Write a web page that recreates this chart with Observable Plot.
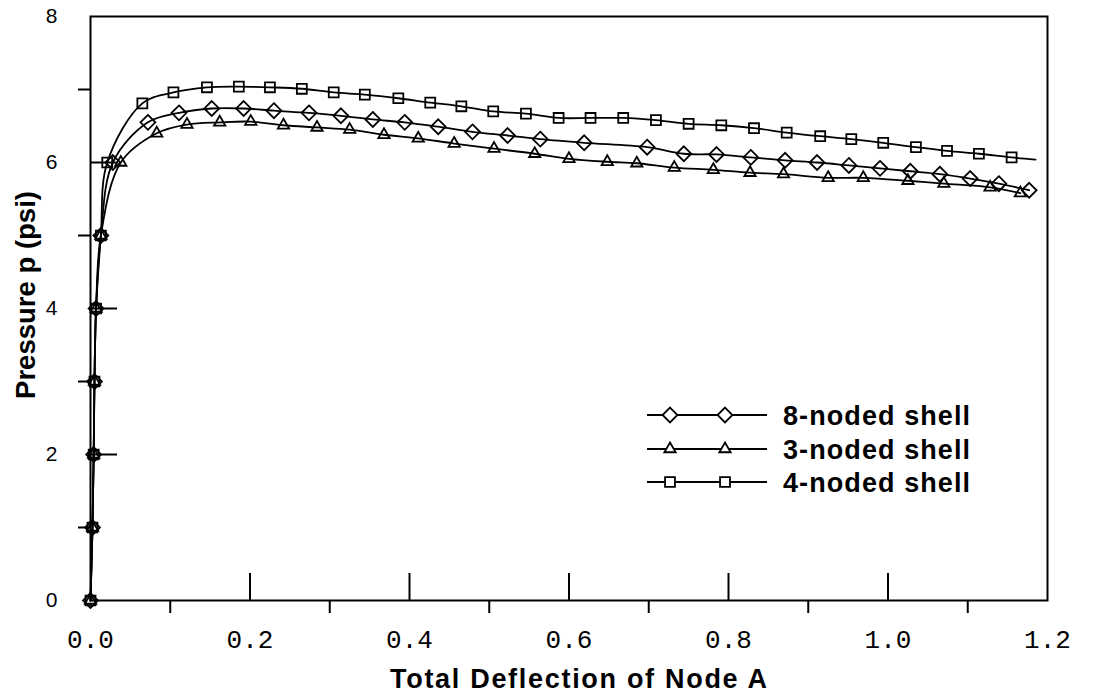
<!DOCTYPE html>
<html><head><meta charset="utf-8">
<script src="https://cdn.jsdelivr.net/npm/d3@7"></script>
<script src="https://cdn.jsdelivr.net/npm/@observablehq/plot@0.6"></script>
<style>
body{margin:0;background:#fff}
#chart{width:1096px;height:696px}
</style>
</head><body><div id="chart"></div>
<script>
// ---- data ----
const lowPressure = [0, 1, 2, 3, 4, 5];
const lowDeflection = [0, 0.0025, 0.004, 0.005, 0.007, 0.013];

const shell8X = [0.028,0.072,0.111,0.152,0.192,0.230,0.274,0.314,0.354,0.394,0.436,0.479,0.523,0.564,0.619,0.698,0.744,0.785,0.828,0.871,0.911,0.951,0.990,1.028,1.065,1.103,1.139,1.177];
const shell8Y = [6.00,6.55,6.68,6.74,6.74,6.71,6.68,6.64,6.59,6.55,6.49,6.42,6.37,6.32,6.27,6.21,6.12,6.11,6.07,6.03,6.00,5.96,5.92,5.88,5.84,5.78,5.71,5.62];

const shell3X = [0.038,0.083,0.121,0.162,0.201,0.242,0.284,0.325,0.368,0.411,0.456,0.506,0.557,0.600,0.648,0.685,0.732,0.781,0.827,0.869,0.925,0.969,1.025,1.070,1.128,1.166];
const shell3Y = [6.00,6.40,6.52,6.55,6.56,6.51,6.48,6.45,6.38,6.33,6.26,6.19,6.12,6.05,6.01,5.99,5.93,5.90,5.86,5.84,5.79,5.79,5.75,5.71,5.66,5.58];

// last point of the 4-noded curve carries no marker
const shell4X = [0.021,0.065,0.104,0.146,0.186,0.225,0.265,0.305,0.344,0.386,0.426,0.465,0.505,0.546,0.587,0.627,0.668,0.709,0.750,0.791,0.832,0.873,0.915,0.954,0.994,1.035,1.074,1.114,1.155,1.185];
const shell4Y = [6.00,6.81,6.96,7.03,7.04,7.03,7.01,6.96,6.93,6.88,6.82,6.77,6.70,6.67,6.61,6.61,6.61,6.58,6.53,6.51,6.47,6.41,6.36,6.32,6.27,6.21,6.16,6.12,6.07,6.04];
const shell4Marked = 29;

const seriesNames = ["8-noded shell", "3-noded shell", "4-noded shell"];
const xTickLabels = [0, 0.2, 0.4, 0.6, 0.8, 1.0, 1.2];
const xTicksInner = [0.2, 0.4, 0.6, 0.8, 1.0];
const xTicksOuter = [0.1, 0.3, 0.5, 0.7, 0.9, 1.1];
const yTickLabels = [0, 2, 4, 6, 8];
const yTicksInner = [2, 4, 6];
const yTicksOuter = [1, 3, 5, 7];
const xTitle = "Total Deflection of Node A";
const yTitle = "Pressure p (psi)";

// ---- build tables ----
function build(xs, ys, marked) {
  const rows = lowDeflection.map((x, i) => ({x, y: lowPressure[i], m: true}));
  xs.forEach((x, i) => rows.push({x, y: ys[i], m: marked == null || i < marked}));
  return rows;
}
const s8 = build(shell8X, shell8Y);
const s3 = build(shell3X, shell3Y);
const s4 = build(shell4X, shell4Y, shell4Marked);

const SW = 1.8;
const symbols = [
  {sym: "diamond2", d3sym: d3.symbolDiamond2, r: 6.7},
  {sym: "triangle2", d3sym: d3.symbolTriangle2, r: 5.4},
  {sym: "square", d3sym: d3.symbolSquare, r: 5.6}
];
const data = [s8, s3, s4];

const lineMarks = data.map(d => Plot.line(d, {x: "x", y: "y", curve: "catmull-rom", stroke: "black", strokeWidth: SW}));
const dotMarks = data.map((d, i) => Plot.dot(d.filter(r => r.m), {x: "x", y: "y", symbol: () => symbols[i].sym, r: symbols[i].r, stroke: "black", strokeWidth: SW, fill: "none"}));

const plot = Plot.plot({
  width: 1096, height: 696,
  marginLeft: 90, marginRight: 49, marginTop: 16, marginBottom: 96,
  x: {domain: [0, 1.2]},
  y: {domain: [0, 8]},
  symbol: {type: "identity"},
  style: {background: "white", color: "black"},
  marks: [
    Plot.tickX(xTicksInner, {x: d => d, insetTop: 557, stroke: "black", strokeWidth: 2}),
    Plot.tickY(yTicksInner, {y: d => d, insetRight: 930, stroke: "black", strokeWidth: 2}),
    Plot.axisX({ticks: xTicksOuter, tickSize: 13, tickFormat: () => "", label: null, strokeWidth: 2}),
    Plot.axisY({ticks: yTicksOuter, tickSize: 12, tickFormat: () => "", label: null, strokeWidth: 2}),
    Plot.axisX({ticks: xTickLabels, tickSize: 0, tickPadding: 29.5, tickFormat: d3.format(".1f"), label: null,
      fontSize: 26, fontFamily: "Liberation Mono, DejaVu Sans Mono, monospace", fill: "black"}),
    Plot.axisY({ticks: yTickLabels, tickSize: 0, tickPadding: 33, label: null,
      fontSize: 21, fontFamily: "Liberation Sans, Arial, sans-serif", fill: "black"}),
    Plot.frame({stroke: "black", strokeWidth: 2}),
    ...lineMarks,
    ...dotMarks
  ]
});

const svg = d3.select(plot);
// axis titles
svg.append("text")
  .attr("x", 390).attr("y", 688)
  .attr("text-anchor", "start")
  .attr("textLength", 377).attr("lengthAdjust", "spacing")
  .attr("font-family", "Liberation Sans, Arial, sans-serif")
  .attr("font-weight", "bold").attr("font-size", 27).attr("fill", "black")
  .text(xTitle);
svg.append("text")
  .attr("transform", "translate(35,295) rotate(-90)")
  .attr("text-anchor", "middle")
  .attr("font-family", "Liberation Sans, Arial, sans-serif")
  .attr("font-weight", "bold").attr("font-size", 27.5).attr("fill", "black")
  .text(yTitle);

// legend
const legendRowY = [415, 449, 482];
const lg = svg.append("g");
seriesNames.forEach((name, i) => {
  const y = legendRowY[i];
  lg.append("line").attr("x1", 647).attr("x2", 767).attr("y1", y).attr("y2", y)
    .attr("stroke", "black").attr("stroke-width", SW);
  const sz = Math.PI * symbols[i].r * symbols[i].r;
  [670, 725].forEach(cx => {
    lg.append("path").attr("d", d3.symbol(symbols[i].d3sym, sz)())
      .attr("transform", `translate(${cx},${y})`)
      .attr("fill", "white").attr("stroke", "black").attr("stroke-width", SW);
  });
  lg.append("text").attr("x", 783).attr("y", y + 10)
    .attr("text-anchor", "start")
    .attr("textLength", 187).attr("lengthAdjust", "spacing")
    .attr("font-family", "Liberation Sans, Arial, sans-serif")
    .attr("font-weight", "bold").attr("font-size", 27).attr("fill", "black")
    .text(name);
});

document.getElementById("chart").appendChild(plot);
</script>
</body></html>
